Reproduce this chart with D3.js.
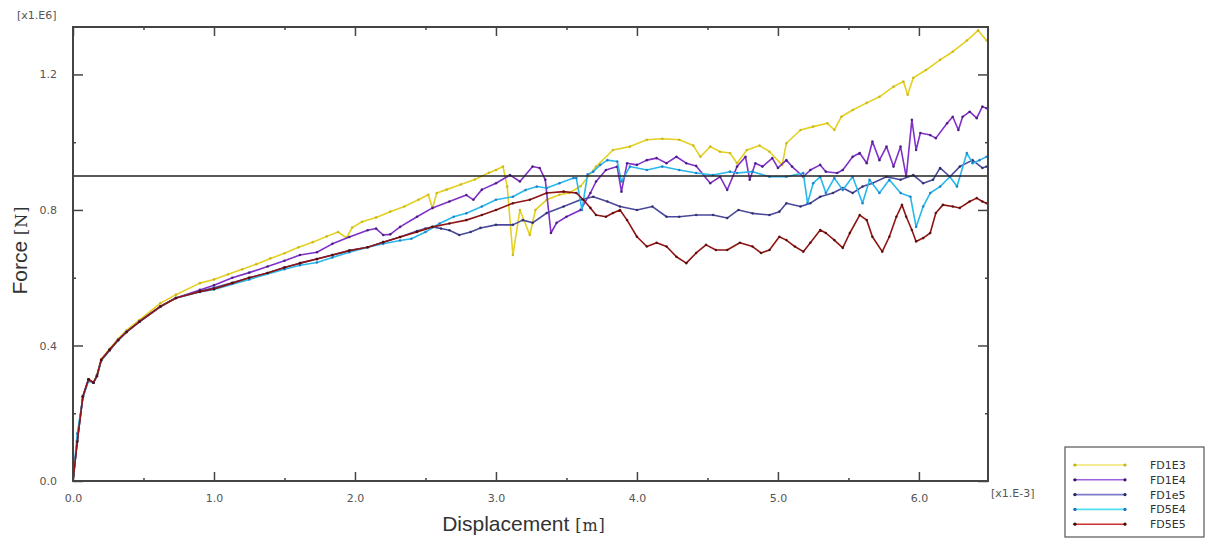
<!DOCTYPE html>
<html><head><meta charset="utf-8">
<script src="https://cdn.jsdelivr.net/npm/d3@7"></script>
<style>body{margin:0;background:#fff}svg{display:block}</style>
</head><body>
<svg id="c" width="1208" height="541"></svg>
<script>
// ---- data (x in 1e-3 m, force in 1e6 N) ----
const seriesNames = ["FD1E3","FD1E4","FD1e5","FD5E4","FD5E5"];
const xTicks = [0,1,2,3,4,5,6];
const xMinorTicks = [0.5,1.5,2.5,3.5,4.5,5.5];
const yTicks = [0,0.4,0.8,1.2];
const yMinorTicks = [0.2,0.6,1.0];
const refLine = 0.90;

const fd1e3_x = [0,0.03,0.07,0.11,0.145,0.17,0.2,0.26,0.32,0.38,0.47,0.62,0.73,0.9,1.0,1.1,1.2,1.3,1.4,1.5,1.6,1.7,1.8,1.88,1.94,1.98,2.05,2.15,2.25,2.35,2.45,2.52,2.55,2.58,2.65,2.75,2.85,2.95,3.0,3.05,3.08,3.12,3.17,3.24,3.28,3.36,3.45,3.52,3.6,3.71,3.83,3.95,4.07,4.18,4.3,4.4,4.45,4.52,4.59,4.66,4.71,4.78,4.87,4.94,5.03,5.06,5.16,5.25,5.35,5.4,5.45,5.53,5.63,5.72,5.82,5.89,5.92,5.96,6.05,6.15,6.24,6.34,6.42,6.48];
const fd1e3_y = [0,0.12,0.25,0.30,0.29,0.315,0.36,0.39,0.42,0.445,0.475,0.525,0.55,0.584,0.595,0.61,0.625,0.64,0.657,0.672,0.69,0.705,0.722,0.735,0.718,0.748,0.765,0.778,0.795,0.81,0.83,0.845,0.805,0.85,0.86,0.875,0.89,0.91,0.918,0.928,0.869,0.667,0.80,0.726,0.80,0.83,0.845,0.85,0.87,0.928,0.977,0.987,1.007,1.01,1.007,0.99,0.957,0.987,0.972,0.968,0.938,0.977,0.99,0.972,0.933,0.997,1.036,1.046,1.056,1.036,1.075,1.095,1.116,1.134,1.164,1.179,1.14,1.19,1.213,1.243,1.267,1.30,1.33,1.30];

const fd1e4_x = [0,0.03,0.07,0.11,0.145,0.17,0.2,0.26,0.32,0.38,0.47,0.62,0.73,0.9,1.0,1.13,1.25,1.38,1.5,1.61,1.73,1.84,1.96,2.09,2.15,2.2,2.25,2.32,2.44,2.55,2.67,2.79,2.84,2.9,3.0,3.1,3.17,3.26,3.31,3.35,3.39,3.43,3.5,3.6,3.67,3.71,3.78,3.86,3.89,3.93,4.0,4.07,4.14,4.21,4.28,4.35,4.42,4.52,4.59,4.64,4.71,4.77,4.8,4.84,4.89,4.96,5.0,5.06,5.1,5.18,5.23,5.3,5.34,5.42,5.46,5.53,5.58,5.63,5.67,5.72,5.77,5.82,5.87,5.91,5.95,5.98,6.01,6.08,6.12,6.2,6.24,6.28,6.31,6.36,6.41,6.45,6.48];
const fd1e4_y = [0,0.12,0.25,0.30,0.29,0.31,0.357,0.387,0.416,0.44,0.47,0.515,0.54,0.564,0.578,0.60,0.615,0.633,0.65,0.667,0.675,0.70,0.72,0.74,0.745,0.726,0.728,0.75,0.78,0.806,0.825,0.844,0.83,0.86,0.879,0.903,0.884,0.928,0.924,0.889,0.732,0.762,0.78,0.80,0.85,0.884,0.918,0.928,0.854,0.938,0.933,0.947,0.953,0.938,0.957,0.938,0.93,0.879,0.898,0.859,0.928,0.957,0.889,0.938,0.928,0.953,0.924,0.947,0.928,0.898,0.918,0.933,0.913,0.909,0.918,0.957,0.968,0.938,1.002,0.947,0.987,0.928,0.987,0.898,1.066,0.977,1.027,1.021,1.012,1.056,1.075,1.036,1.075,1.09,1.071,1.105,1.10];

const fd1e5_x = [0,0.03,0.07,0.11,0.145,0.17,0.2,0.26,0.32,0.38,0.47,0.62,0.73,0.9,1.0,1.13,1.25,1.38,1.5,1.61,1.73,1.84,1.96,2.09,2.2,2.32,2.44,2.5,2.55,2.61,2.67,2.74,2.82,2.89,3.0,3.12,3.19,3.26,3.36,3.48,3.6,3.69,3.79,3.88,4.0,4.11,4.21,4.3,4.42,4.54,4.64,4.72,4.82,4.94,5.01,5.06,5.16,5.23,5.3,5.39,5.46,5.53,5.6,5.67,5.77,5.87,5.96,6.03,6.1,6.15,6.22,6.29,6.38,6.45,6.48];
const fd1e5_y = [0,0.116,0.249,0.30,0.29,0.31,0.357,0.387,0.416,0.44,0.47,0.515,0.54,0.56,0.57,0.585,0.60,0.614,0.63,0.643,0.655,0.667,0.68,0.69,0.705,0.72,0.738,0.745,0.75,0.745,0.74,0.726,0.735,0.747,0.756,0.756,0.77,0.762,0.791,0.81,0.83,0.839,0.825,0.81,0.80,0.81,0.78,0.78,0.785,0.785,0.776,0.80,0.79,0.785,0.795,0.82,0.81,0.82,0.839,0.85,0.865,0.85,0.869,0.879,0.898,0.889,0.903,0.879,0.889,0.924,0.898,0.928,0.947,0.924,0.928];

const fd5e4_x = [0,0.03,0.07,0.11,0.145,0.17,0.2,0.26,0.32,0.38,0.47,0.62,0.73,0.9,1.0,1.25,1.5,1.61,1.73,1.84,1.96,2.09,2.2,2.32,2.4,2.5,2.6,2.7,2.79,2.9,3.0,3.12,3.21,3.29,3.36,3.45,3.55,3.57,3.61,3.65,3.69,3.74,3.79,3.86,3.89,3.95,4.07,4.18,4.3,4.42,4.54,4.66,4.71,4.82,4.94,5.06,5.18,5.21,5.25,5.3,5.34,5.4,5.46,5.53,5.6,5.65,5.72,5.79,5.87,5.94,5.98,6.03,6.08,6.15,6.22,6.27,6.34,6.38,6.43,6.48];
const fd5e4_y = [0,0.14,0.245,0.295,0.29,0.31,0.355,0.385,0.415,0.44,0.47,0.515,0.54,0.558,0.565,0.595,0.625,0.637,0.645,0.66,0.675,0.69,0.70,0.71,0.715,0.735,0.76,0.78,0.79,0.81,0.83,0.839,0.859,0.869,0.865,0.879,0.894,0.894,0.80,0.905,0.913,0.933,0.947,0.943,0.884,0.928,0.918,0.928,0.918,0.909,0.903,0.913,0.909,0.913,0.898,0.898,0.909,0.82,0.879,0.898,0.85,0.894,0.859,0.898,0.82,0.889,0.85,0.889,0.85,0.839,0.75,0.81,0.85,0.869,0.898,0.869,0.968,0.938,0.947,0.957];

const fd5e5_x = [0,0.03,0.07,0.11,0.145,0.17,0.2,0.26,0.32,0.38,0.47,0.62,0.73,0.9,1.0,1.13,1.25,1.38,1.5,1.61,1.73,1.84,1.96,2.09,2.2,2.32,2.44,2.55,2.67,2.79,2.9,3.0,3.12,3.24,3.36,3.48,3.57,3.62,3.67,3.71,3.78,3.83,3.88,3.93,4.0,4.07,4.14,4.21,4.28,4.35,4.42,4.49,4.56,4.64,4.73,4.82,4.88,4.94,5.01,5.06,5.12,5.18,5.23,5.3,5.34,5.4,5.46,5.51,5.58,5.63,5.67,5.74,5.79,5.84,5.88,5.91,5.95,5.98,6.03,6.08,6.12,6.17,6.24,6.29,6.36,6.41,6.45,6.48];
const fd5e5_y = [0,0.116,0.249,0.30,0.29,0.31,0.357,0.387,0.416,0.44,0.47,0.515,0.54,0.559,0.567,0.584,0.60,0.614,0.63,0.643,0.655,0.667,0.68,0.69,0.705,0.72,0.735,0.75,0.76,0.77,0.785,0.80,0.82,0.83,0.85,0.854,0.85,0.83,0.806,0.785,0.78,0.791,0.80,0.77,0.721,0.692,0.703,0.692,0.662,0.643,0.673,0.697,0.682,0.682,0.703,0.692,0.673,0.682,0.721,0.711,0.692,0.677,0.703,0.741,0.732,0.711,0.688,0.732,0.785,0.77,0.721,0.677,0.721,0.78,0.815,0.78,0.741,0.707,0.717,0.732,0.791,0.815,0.81,0.806,0.825,0.835,0.825,0.82];

const seriesX = [fd1e3_x, fd1e4_x, fd1e5_x, fd5e4_x, fd5e5_x];
const seriesY = [fd1e3_y, fd1e4_y, fd1e5_y, fd5e4_y, fd5e5_y];
const lineColors = ["#e4d020","#8030c8","#4a4a9c","#28b8ec","#901414"];
const markColors = ["#c8b010","#3a1470","#26265e","#1a70c0","#4a0808"];
const legendColors = ["#eee670","#a060e0","#7c7cc8","#50e0f4","#d03030"];

// ---- chart ----
const svg = d3.select("#c");
const L=73, R=988, T=27, B=481;
const x = d3.scaleLinear().domain([0,6.49]).range([L,R]);
const y = d3.scaleLinear().domain([0,1.34]).range([B,T]);

// series
const line = d3.line().x(d=>x(d[0])).y(d=>y(d[1]));
const plot = svg.append("g");
seriesNames.forEach((n,i)=>{
  const pts = seriesX[i].map((v,j)=>[v, seriesY[i][j]]);
  plot.append("path").datum(pts).attr("d",line).attr("fill","none")
    .attr("stroke",lineColors[i]).attr("stroke-width",1.6).attr("stroke-linejoin","round");
  plot.selectAll(null).data(pts.slice(1)).enter().append("circle")
    .attr("cx",d=>x(d[0])).attr("cy",d=>y(d[1])).attr("r",1.3)
    .attr("fill",markColors[i]).attr("opacity",0.8);
});

// reference line
svg.append("line").attr("x1",L).attr("x2",R).attr("y1",y(refLine)).attr("y2",y(refLine))
  .attr("stroke","#222").attr("stroke-width",1.5);

// axes
const axColor="#444";
function styleAxis(g){
  g.select(".domain").remove();
  g.selectAll(".tick line").attr("stroke",axColor).attr("stroke-width",1.5);
  g.selectAll(".tick text").attr("fill","#555").attr("font-family","DejaVu Sans").attr("font-size",11);
}
const fmt = d3.format(".1f");
svg.append("g").attr("transform",`translate(0,${B})`)
  .call(d3.axisBottom(x).tickValues(xTicks).tickFormat(fmt).tickSizeInner(-9).tickPadding(13)).call(styleAxis);
svg.append("g").attr("transform",`translate(0,${B})`)
  .call(d3.axisBottom(x).tickValues(xMinorTicks).tickFormat("").tickSizeInner(-3)).call(styleAxis);
svg.append("g").attr("transform",`translate(0,${T})`)
  .call(d3.axisTop(x).tickValues(xTicks).tickFormat("").tickSizeInner(-9)).call(styleAxis);
svg.append("g").attr("transform",`translate(0,${T})`)
  .call(d3.axisTop(x).tickValues(xMinorTicks).tickFormat("").tickSizeInner(-3)).call(styleAxis);
svg.append("g").attr("transform",`translate(${L},0)`)
  .call(d3.axisLeft(y).tickValues(yTicks).tickFormat(fmt).tickSizeInner(-10).tickPadding(16)).call(styleAxis);
svg.append("g").attr("transform",`translate(${L},0)`)
  .call(d3.axisLeft(y).tickValues(yMinorTicks).tickFormat("").tickSizeInner(-3)).call(styleAxis);
svg.append("g").attr("transform",`translate(${R},0)`)
  .call(d3.axisRight(y).tickValues(yTicks).tickFormat("").tickSizeInner(-10)).call(styleAxis);
svg.append("g").attr("transform",`translate(${R},0)`)
  .call(d3.axisRight(y).tickValues(yMinorTicks).tickFormat("").tickSizeInner(-3)).call(styleAxis);

// frame
svg.append("rect").attr("x",L).attr("y",T).attr("width",R-L).attr("height",B-T)
  .attr("fill","none").attr("stroke",axColor).attr("stroke-width",2);

// multipliers
svg.append("text").attr("x",17).attr("y",19).text("[x1.E6]")
  .attr("font-family","DejaVu Sans").attr("font-size",11).attr("fill","#555");
svg.append("text").attr("x",991).attr("y",497).text("[x1.E-3]")
  .attr("font-family","DejaVu Sans").attr("font-size",11).attr("fill","#555");

// axis titles
const yt = svg.append("text").attr("transform","translate(27,250) rotate(-90)").attr("text-anchor","middle").attr("fill","#333");
yt.append("tspan").text("Force ").attr("font-family","Liberation Sans").attr("font-size",21);
yt.append("tspan").text(" [N]").attr("font-family","DejaVu Serif").attr("font-size",16).attr("letter-spacing",1);
const xt = svg.append("text").attr("x",524).attr("y",531).attr("text-anchor","middle").attr("fill","#333");
xt.append("tspan").text("Displacement ").attr("font-family","Liberation Sans").attr("font-size",21);
xt.append("tspan").text(" [m]").attr("font-family","DejaVu Serif").attr("font-size",16).attr("letter-spacing",1);

// legend
const lg = svg.append("g");
lg.append("rect").attr("x",1065).attr("y",447).attr("width",139).attr("height",90)
  .attr("fill","#fff").attr("stroke","#555").attr("stroke-width",1.2);
seriesNames.forEach((n,i)=>{
  const yy = 465 + i*14.8;
  lg.append("line").attr("x1",1073).attr("x2",1126).attr("y1",yy).attr("y2",yy)
    .attr("stroke",legendColors[i]).attr("stroke-width",1.6);
  [1075,1125].forEach(cx=>lg.append("circle").attr("cx",cx).attr("cy",yy).attr("r",1.6).attr("fill",markColors[i]));
  lg.append("text").attr("x",1150).attr("y",yy+4).text(n)
    .attr("font-family","DejaVu Sans").attr("font-size",11).attr("fill","#333");
});
</script>
</body></html>
